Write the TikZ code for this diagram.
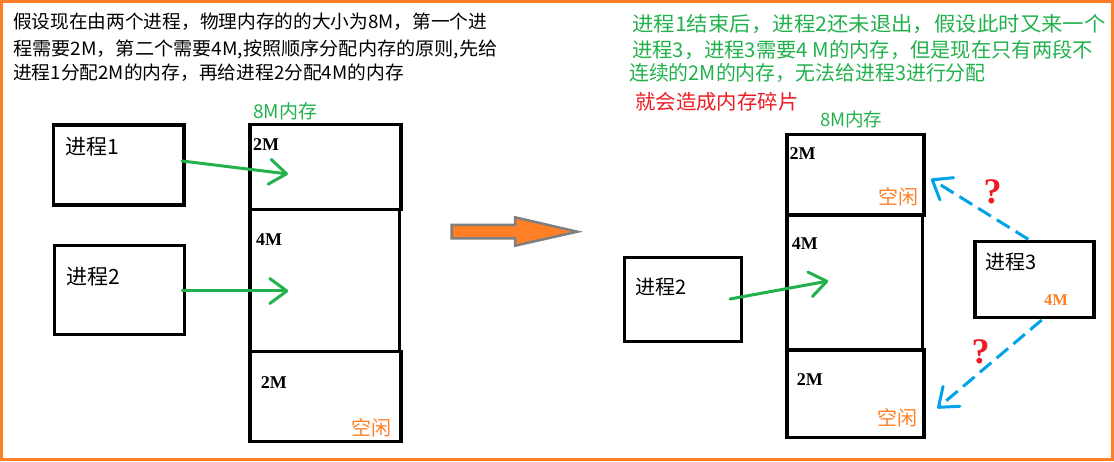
\documentclass[tikz,border=0pt]{standalone}
\usepackage{fontspec}
\setmainfont{Noto Sans CJK SC}
\newfontfamily\serifb{Liberation Serif}
\usetikzlibrary{arrows.meta}
\definecolor{bord}{HTML}{FF7F27}
\definecolor{gr}{HTML}{22B14C}
\definecolor{org}{HTML}{FF7F27}
\definecolor{rd}{HTML}{ED1C24}
\definecolor{bl}{HTML}{00A2E8}
\definecolor{gy}{HTML}{7F7F7F}
\tikzset{
  box/.style={draw=black, line width=3.2pt, inner sep=0pt},
  txt/.style={inner sep=0pt, anchor=west},
  lbl/.style={inner sep=0pt, anchor=west, font=\serifb\bfseries\fontsize{18}{18}\selectfont},
  free/.style={inner sep=0pt, anchor=west, text=org, font=\fontsize{20}{20}\selectfont},
  garrow/.style={draw=gr, line width=3pt, line cap=round, -{Straight Barb[length=17pt,width=25pt,round]}},
  barrow/.style={draw=bl, line width=3pt, dash pattern=on 15pt off 7pt, -{Straight Barb[length=17pt,width=26pt,round]}},
  qm/.style={inner sep=0pt, text=rd, font=\serifb\bfseries\fontsize{36}{36}\selectfont}
}
\begin{document}
\begin{tikzpicture}[x=1pt,y=-1pt]
\useasboundingbox (0,0) rectangle (1114,462);
\draw[bord, line width=3pt] (1.5,1.5) rectangle (1112,459.5);
% top-left text
\node[txt, font=\fontsize{18.5}{18.5}\selectfont] (l1) at (13,21.5) {\scalebox{1.01}[1]{假设现在由两个进程，物理内存的的大小为8M，第一个进}};
\node[txt, font=\fontsize{18.5}{18.5}\selectfont] (l2) at (13,49) {\scalebox{1.035}[1]{程需要2M，第二个需要4M,按照顺序分配内存的原则,先给}};
\node[txt, font=\fontsize{18.5}{18.5}\selectfont] (l3) at (13,72.5) {\scalebox{1.013}[1]{进程1分配2M的内存，再给进程2分配4M的内存}};
% top-right text
\node[txt, text=gr, font=\fontsize{20.3}{20.3}\selectfont] (r1) at (632,24) {\scalebox{1.055}[1]{进程1结束后，进程2还未退出，假设此时又来一个}};
\node[txt, text=gr, font=\fontsize{20.3}{20.3}\selectfont] (r2) at (632,50) {进程3，进程3需要4 M的内存，但是现在只有两段不};
\node[txt, text=gr, font=\fontsize{20.3}{20.3}\selectfont] (r3) at (629,73) {\scalebox{0.98}[1]{连续的2M的内存，无法给进程3进行分配}};
\node[txt, text=rd, font=\fontsize{20.4}{20.4}\selectfont] (r4) at (635,102) {就会造成内存碎片};
% left diagram
\node[txt, text=gr, font=\fontsize{19}{19}\selectfont] (ml) at (253,111) {8M内存};
\node[box, minimum width=130.7pt, minimum height=80pt] (p1) at (118.7,165) {};
\node[box, minimum width=130pt, minimum height=88.6pt] (p2) at (119.3,290) {};
\node[txt, font=\fontsize{21}{21}\selectfont] (p1t) at (65,146.7) {进程1};
\node[txt, font=\fontsize{21}{21}\selectfont] (p2t) at (66.7,276.7) {进程2};
\node[box, minimum width=151pt, minimum height=85pt] (m1) at (325.5,166.8) {};
\node[box, minimum width=149.5pt, minimum height=142.4pt] (m2) at (324.75,280.5) {};
\node[box, minimum width=151pt, minimum height=90pt] (m3) at (325.5,396.7) {};
\node[lbl] (m1t) at (253,145) {2M};
\node[lbl] (m2t) at (256,240) {4M};
\node[lbl] (m3t) at (260.7,383) {2M};
\node[free] (m3f) at (351.7,428.3) {空闲};
\coordinate (a1s) at (182,161);
\coordinate (a1e) at (288,174);
\coordinate (a2s) at (182.3,291);
\coordinate (a2e) at (288.3,291);
\draw[garrow] (a1s) -- (a1e);
\draw[garrow] (a2s) -- (a2e);
% big arrow
\draw[gy, line width=2.5pt, fill=org, line join=miter] (451.7,225) -- (515,225) -- (515,217.3) -- (577.3,231.7) -- (515,245.7) -- (515,238.3) -- (451.7,238.3) -- cycle;
% right diagram
\node[txt, text=gr, font=\fontsize{18.5}{18.5}\selectfont] (mr) at (820,119) {8M内存};
\node[box, minimum width=117.4pt, minimum height=84.4pt] (q2) at (683,299.5) {};
\node[txt, font=\fontsize{20}{20}\selectfont] (q2t) at (635,286.7) {进程2};
\node[box, minimum width=137pt, minimum height=80.7pt] (n1) at (855.5,174.7) {};
\node[box, minimum width=135.5pt, minimum height=135pt] (n2) at (854.75,282.5) {};
\node[box, minimum width=137pt, minimum height=87.7pt] (n3) at (855.5,393.85) {};
\node[lbl] (n1t) at (789.3,153.3) {2M};
\node[free] (n1f) at (878,196.7) {空闲};
\node[lbl] (n2t) at (791.7,243.3) {4M};
\node[lbl] (n3t) at (796.7,379.3) {2M};
\node[free] (n3f) at (877.3,418.3) {空闲};
\node[box, minimum width=119pt, minimum height=76pt] (q3) at (1034.5,279.7) {};
\node[txt, font=\fontsize{20}{20}\selectfont] (q3t) at (985,262.3) {进程3};
\node[lbl, text=org, font=\serifb\bfseries\fontsize{16.5}{16.5}\selectfont] (q3m) at (1044,300) {4M};
\coordinate (b0s) at (730,299);
\coordinate (b0e) at (828.3,281);
\draw[garrow] (b0s) -- (b0e);
\coordinate (b1s) at (1028.3,239.3);
\coordinate (b1e) at (931,179);
\coordinate (b2s) at (1041.7,320);
\coordinate (b2e) at (937.3,408.3);
\draw[barrow] (b1s) -- (b1e);
\draw[barrow] (b2s) -- (b2e);
\node[qm] (qa) at (992.5,192) {?};
\node[qm] (qb) at (980.5,351.7) {?};
\end{tikzpicture}
\end{document}
